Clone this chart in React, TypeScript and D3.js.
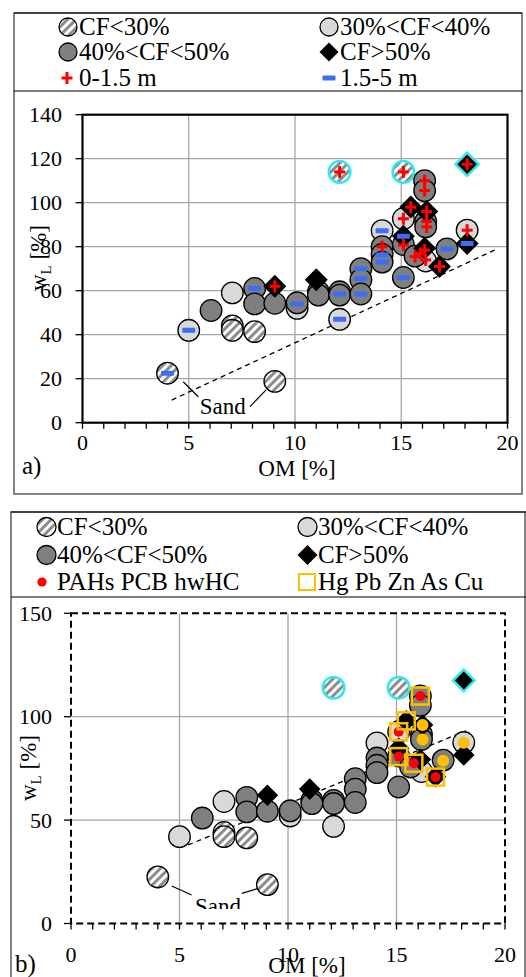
import React from 'react';
import * as d3 from 'd3';

// ---------- data (OM [%], wL [%]) ----------
const hatchedOM = [4, 7.05, 7.05, 8.1, 9.05];
const hatchedWL = [22.5, 44, 42, 41.4, 18.8];
const outlierHatchedOM = [12.1, 15.1];
const outlierHatchedWL = [114, 114];
const lightOM = [5, 7.05, 10.1, 12.1, 14.1, 15.1, 16.15, 18.1];
const lightWL = [42, 59, 52, 47, 87.3, 92.7, 73.5, 87.5];
const darkOM = [6.05, 8.1, 8.1, 9.05, 10.1, 11.1, 11.1, 12.1, 12.1, 13.1, 13.1, 13.1, 14.1, 14.1, 14.1, 15.1, 15.1, 15.65, 16.1, 16.1, 16.15, 16.15, 17.15];
const darkWL = [51, 61, 54, 54.3, 54.5, 59.5, 58, 59.5, 58, 70, 65, 58.5, 80, 76.5, 73, 66, 81, 75.7, 110, 105.5, 91.5, 89, 79];
const diamondOM = [9.05, 11, 15.45, 15.1, 16.2, 16.1, 16.8, 18.1];
const diamondWL = [62, 65, 98, 84.7, 96, 79.3, 71, 81.5];
const outlierDiamondOM = [18.1];
const outlierDiamondWL = [117.5];

// depth markers (panel a)
const shallowOM = [12.1, 15.1, 18.1, 16.1, 16.1, 15.45, 15.1, 16.2, 16.2, 16.2, 14.1, 15.1, 15.65, 16.1, 16.15, 16.8, 18.1, 9.05, 15.9];
const shallowWL = [114, 114, 117.5, 110, 105.5, 98, 92.7, 96, 91.5, 89, 80, 80.8, 75.5, 78.5, 74, 71, 87.5, 62, 77];
const deepOM = [4, 5, 8.1, 10.1, 12.1, 12.1, 13.1, 13.1, 13.1, 14.1, 14.1, 14.1, 15.1, 15.1, 17.15, 18.1];
const deepWL = [22.5, 42, 61, 54, 58.5, 47, 70, 65.5, 58.5, 87.3, 76.2, 73, 84.7, 66, 79, 81.5];

// contaminant markers (panel b)
const organicMetalOM = [16.1, 15.1, 15.1, 15.8, 16.8];
const organicMetalWL = [110, 92.7, 80.7, 77.5, 70.8];
const metalOnlyOM = [15.45];
const metalOnlyWL = [98];
const metalDotOM = [16.2, 16.2, 17.15, 18.1];
const metalDotWL = [96, 89, 78.7, 87.4];

// trend lines
const trendAOM = [4.2, 19.4];
const trendAWL = [10.3, 78.5];
const trendBOM = [5.4, 18.2];
const trendBWL = [38, 93.2];

const xTicks = [0, 5, 10, 15, 20];
const yTicksA = [0, 20, 40, 60, 80, 100, 120, 140];
const yTicksB = [0, 50, 100, 150];

const legendA = ['CF<30%', '30%<CF<40%', '40%<CF<50%', 'CF>50%', '0-1.5 m', '1.5-5 m'];
const legendB = ['CF<30%', '30%<CF<40%', '40%<CF<50%', 'CF>50%', 'PAHs PCB hwHC', 'Hg Pb Zn As Cu'];

// ---------- styles ----------
const FONT = 'Liberation Serif';
const LIGHT = '#d9d9d9';
const DARK = '#7f7f7f';
const CYAN = '#30e8f2';
const RED = '#ff0000';
const BLUE = '#3b6ef5';
const GOLD = '#ffc000';
const GRID = '#a6a6a6';

const zip = (a: number[], b: number[]) => a.map((v, i) => [v, b[i]] as [number, number]);

const diamondPath = (half: number) =>
  d3.symbol().type(d3.symbolSquare).size(2 * half * half)() as string;

function T(props: any) {
  return <text fontFamily={FONT} {...props} />;
}
function Circle({ x, y, r, fill, stroke = '#000', sw = 1.3 }: any) {
  return <circle cx={x} cy={y} r={r} fill={fill} stroke={stroke} strokeWidth={sw} />;
}
function Diamond({ x, y, half, stroke = 'none', sw = 0 }: any) {
  return <path d={diamondPath(half)} transform={`translate(${x},${y}) rotate(45)`} fill="#000" stroke={stroke} strokeWidth={sw} />;
}
function Plus({ x, y }: any) {
  return (
    <g stroke={RED} strokeWidth={3}>
      <line x1={x - 5.5} x2={x + 5.5} y1={y} y2={y} />
      <line x1={x} x2={x} y1={y - 6} y2={y + 6} />
    </g>
  );
}
function Dash({ x, y }: any) {
  return <rect x={x - 6.5} y={y - 2.5} width={13} height={5} fill={BLUE} rx={1} />;
}

function Points({ xs, ys, r, half }: any) {
  return (
    <g>
      {zip(hatchedOM, hatchedWL).map(([o, w], i) => (
        <Circle key={'h' + i} x={xs(o)} y={ys(w)} r={r} fill="url(#hatch)" />
      ))}
      {zip(outlierHatchedOM, outlierHatchedWL).map(([o, w], i) => (
        <Circle key={'oh' + i} x={xs(o)} y={ys(w)} r={r} fill="url(#hatch)" stroke={CYAN} sw={2.5} />
      ))}
      {zip(lightOM, lightWL).map(([o, w], i) => (
        <Circle key={'l' + i} x={xs(o)} y={ys(w)} r={r} fill={LIGHT} />
      ))}
      {zip(darkOM, darkWL).map(([o, w], i) => (
        <Circle key={'d' + i} x={xs(o)} y={ys(w)} r={r} fill={DARK} />
      ))}
      {zip(diamondOM, diamondWL).map(([o, w], i) => (
        <Diamond key={'k' + i} x={xs(o)} y={ys(w)} half={half} />
      ))}
      {zip(outlierDiamondOM, outlierDiamondWL).map(([o, w], i) => (
        <Diamond key={'ok' + i} x={xs(o)} y={ys(w)} half={half} stroke={CYAN} sw={2.5} />
      ))}
    </g>
  );
}

function Axes({ xs, ys, yTicks, dashed }: any) {
  const [x0, x1] = xs.range();
  const [y0, y1] = ys.range();
  const minor = d3.range(0, 21, 1);
  return (
    <g>
      {xTicks.filter((t) => t > 0 && t < 20).map((t) => (
        <line key={'gx' + t} x1={xs(t)} x2={xs(t)} y1={y0} y2={y1} stroke={GRID} strokeWidth={1.3} />
      ))}
      {yTicks.filter((t: number) => t > 0 && t < yTicks[yTicks.length - 1]).map((t: number) => (
        <line key={'gy' + t} x1={x0} x2={x1} y1={ys(t)} y2={ys(t)} stroke={GRID} strokeWidth={1.3} />
      ))}
      {minor.map((t) => (
        <line key={'mx' + t} x1={xs(t)} x2={xs(t)} y1={y0} y2={y0 + 6} stroke="#000" strokeWidth={1.3} />
      ))}
      {yTicks.map((t: number) => (
        <line key={'ty' + t} x1={x0 - 7} x2={x0} y1={ys(t)} y2={ys(t)} stroke="#000" strokeWidth={1.3} />
      ))}
      <rect x={x0} y={y1} width={x1 - x0} height={y0 - y1} fill="none" stroke="#000"
        strokeWidth={dashed ? 2 : 2.2} strokeDasharray={dashed ? '7,4' : undefined} />
    </g>
  );
}

export default function App() {
  const xa = d3.scaleLinear().domain([0, 20]).range([82.5, 507.5]);
  const ya = d3.scaleLinear().domain([0, 140]).range([422.7, 114.7]);
  const xb = d3.scaleLinear().domain([0, 20]).range([71, 505]);
  const yb = d3.scaleLinear().domain([0, 150]).range([923.5, 613.3]);
  const line = (xs: any, ys: any, om: number[], wl: number[]) =>
    d3.line<[number, number]>().x((d) => xs(d[0])).y((d) => ys(d[1]))(zip(om, wl)) as string;

  return (
    <svg width={526} height={977} style={{ position: 'absolute', left: 0, top: 0, background: '#fff' }}>
      <defs>
        <pattern id="hatch" patternUnits="userSpaceOnUse" width={6} height={6} patternTransform="rotate(45)">
          <rect width={6} height={6} fill="#fff" />
          <rect width={3} height={6} fill="#8c8c8c" />
        </pattern>
        <clipPath id="sandClip">
          <rect x={0} y={0} width={526} height={909} />
        </clipPath>
      </defs>

      {/* ================= Panel a ================= */}
      <rect x={14} y={13} width={508} height={481} fill="none" stroke="#666" strokeWidth={1.6} />
      <line x1={14} x2={522} y1={13} y2={13} stroke="#000" strokeWidth={1.2} />
      <line x1={14} x2={522} y1={91} y2={91} stroke="#000" strokeWidth={1.2} />
      {/* legend a */}
      <g fontSize={25}>
        <Circle x={68} y={27} r={9} fill="url(#hatch)" />
        <T x={79} y={35}>{legendA[0]}</T>
        <Circle x={329} y={27} r={9} fill={LIGHT} />
        <T x={340} y={35}>{legendA[1]}</T>
        <Circle x={68} y={52} r={9} fill={DARK} />
        <T x={79} y={60}>{legendA[2]}</T>
        <Diamond x={329} y={52} half={9.5} />
        <T x={340} y={60}>{legendA[3]}</T>
        <Plus x={67} y={78} />
        <T x={79} y={86}>{legendA[4]}</T>
        <Dash x={329} y={78} />
        <T x={340} y={86}>{legendA[5]}</T>
      </g>

      <Axes xs={xa} ys={ya} yTicks={yTicksA} />
      <path d={line(xa, ya, trendAOM, trendAWL)} fill="none" stroke="#000" strokeWidth={1.3} strokeDasharray="5,4" />
      {/* Sand annotation */}
      <g stroke="#000" strokeWidth={1.2}>
        <line x1={xa(4.74)} y1={ya(18.6)} x2={xa(5.45)} y2={ya(11.8)} />
        <line x1={xa(7.88)} y1={ya(7.3)} x2={xa(8.64)} y2={ya(14.9)} />
      </g>
      <T x={xa(6.6)} y={ya(4)} fontSize={23} textAnchor="middle">Sand</T>

      <Points xs={xa} ys={ya} r={10.8} half={11.5} />
      {zip(shallowOM, shallowWL).map(([o, w], i) => <Plus key={'p' + i} x={xa(o)} y={ya(w)} />)}
      {zip(deepOM, deepWL).map(([o, w], i) => <Dash key={'m' + i} x={xa(o)} y={ya(w)} />)}

      {/* axes labels a */}
      <g fontSize={22} textAnchor="end">
        {yTicksA.map((t) => (
          <T key={t} x={62} y={ya(t) + 7.5}>{t}</T>
        ))}
      </g>
      <g fontSize={22} textAnchor="middle">
        {xTicks.map((t) => (
          <T key={t} x={xa(t)} y={450}>{t}</T>
        ))}
      </g>
      <T x={297} y={476} fontSize={23} textAnchor="middle">OM [%]</T>
      <T x={22} y={474} fontSize={25}>a)</T>
      <T transform="translate(46,258) rotate(-90)" fontSize={23} textAnchor="middle">
        w<tspan fontSize={15} dy={5}>L</tspan><tspan dy={-5}> [%]</tspan>
      </T>

      {/* ================= Panel b ================= */}
      <rect x={11} y={512} width={514} height={480} fill="none" stroke="#666" strokeWidth={1.6} />
      <line x1={11} x2={526} y1={512} y2={512} stroke="#000" strokeWidth={1.2} />
      <line x1={11} x2={526} y1={597} y2={597} stroke="#000" strokeWidth={1.2} />
      <g fontSize={25}>
        <Circle x={46.5} y={527} r={9.5} fill="url(#hatch)" />
        <T x={57} y={535}>{legendB[0]}</T>
        <Circle x={307.5} y={527} r={9.5} fill={LIGHT} />
        <T x={318} y={535}>{legendB[1]}</T>
        <Circle x={46.5} y={555} r={9.5} fill={DARK} />
        <T x={57} y={563}>{legendB[2]}</T>
        <Diamond x={307.5} y={555} half={10} />
        <T x={318} y={563}>{legendB[3]}</T>
        <circle cx={42} cy={582} r={4.6} fill={RED} />
        <T x={57} y={590}>{legendB[4]}</T>
        <rect x={299} y={574} width={16} height={16} fill="none" stroke={GOLD} strokeWidth={2} />
        <T x={318} y={590}>{legendB[5]}</T>
      </g>

      <Axes xs={xb} ys={yb} yTicks={yTicksB} dashed />
      <path d={line(xb, yb, trendBOM, trendBWL)} fill="none" stroke="#000" strokeWidth={1.3} strokeDasharray="5,4" />
      <g stroke="#000" strokeWidth={1.2}>
        <line x1={xb(4.64)} y1={yb(18.1)} x2={xb(5.56)} y2={yb(13.8)} />
        <line x1={xb(7.87)} y1={yb(14.6)} x2={xb(8.63)} y2={yb(17)} />
      </g>
      <T x={xb(6.77)} y={yb(4.6)} fontSize={23} textAnchor="middle" clipPath="url(#sandClip)">Sand</T>

      <Points xs={xb} ys={yb} r={10.8} half={10.8} />
      {zip(organicMetalOM, organicMetalWL).map(([o, w], i) => (
        <g key={'om' + i}>
          <rect x={xb(o) - 8.5} y={yb(w) - 8.5} width={17} height={17} fill="none" stroke={GOLD} strokeWidth={2.5} />
          <circle cx={xb(o)} cy={yb(w)} r={5} fill={RED} />
        </g>
      ))}
      {zip(metalOnlyOM, metalOnlyWL).map(([o, w], i) => (
        <rect key={'mo' + i} x={xb(o) - 8.5} y={yb(w) - 8.5} width={17} height={17} fill="none" stroke={GOLD} strokeWidth={2.5} />
      ))}
      {zip(metalDotOM, metalDotWL).map(([o, w], i) => (
        <circle key={'md' + i} cx={xb(o)} cy={yb(w)} r={6} fill={GOLD} />
      ))}

      <g fontSize={22} textAnchor="middle">
        {yTicksB.map((t) => (
          <T key={t} x={52} y={yb(t) + 7.5} textAnchor="end">{t}</T>
        ))}
        {xTicks.map((t) => (
          <T key={'x' + t} x={xb(t)} y={962}>{t}</T>
        ))}
      </g>
      <T x={307} y={973} fontSize={23} textAnchor="middle">OM [%]</T>
      <T x={15} y={972} fontSize={25}>b)</T>
      <T transform="translate(36,768) rotate(-90)" fontSize={23} textAnchor="middle">
        w<tspan fontSize={15} dy={5}>L</tspan><tspan dy={-5}> [%]</tspan>
      </T>
    </svg>
  );
}
